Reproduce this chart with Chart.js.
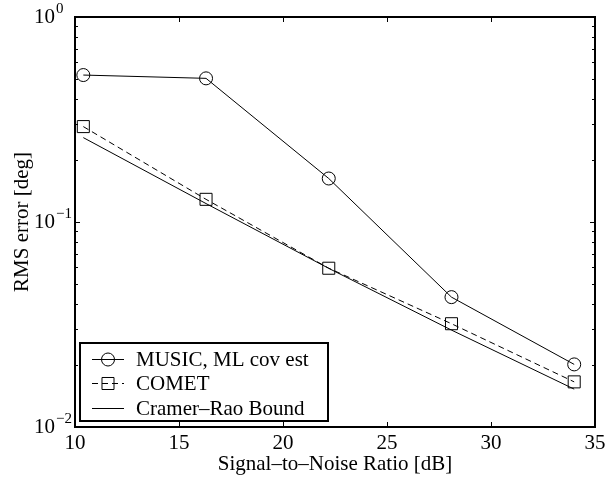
<!DOCTYPE html>
<html>
<head>
<meta charset="utf-8">
<script src="https://cdn.jsdelivr.net/npm/chart.js@4.4.0/dist/chart.umd.min.js"></script>
<style>
  html, body { margin: 0; padding: 0; background: #fff; }
  #wrap { width: 607px; height: 482px; }
</style>
</head>
<body>
<div id="wrap"><canvas id="myChart" width="607" height="482"></canvas></div>
<script>
let snrValues = [10.4, 16.3, 22.2, 28.1, 34.0];
let musicErr = [0.521, 0.502, 0.163, 0.043, 0.0202];
let cometErr = [0.292, 0.129, 0.0595, 0.0319, 0.0166];
let crbErr = [0.258, 0.123, 0.0594, 0.0297, 0.0153];
let seriesNames = ['MUSIC, ML cov est', 'COMET', 'Cramer\u2013Rao Bound'];
let xTicks = [10, 15, 20, 25, 30, 35];
let yMajor = [1, 0.1, 0.01];
let yExponents = {'1': '0', '0.1': '\u22121', '0.01': '\u22122'};

let fontFam = '"Liberation Serif", "Times New Roman", serif';

function toPoints(ys) {
    let pts = [];
    for (let i = 0; i < snrValues.length; i++) {
        pts.push({x: snrValues[i], y: ys[i]});
    }
    return pts;
}

function noPad(s) {
    s.paddingTop = 0;
    s.paddingBottom = 0;
    s.paddingLeft = 0;
    s.paddingRight = 0;
}

// box, inward ticks, exponents and legend
let framePlugin = {
    id: 'frame',
    afterDatasetsDraw(chart) {
        let ctx = chart.ctx;
        let a = chart.chartArea;
        let xs = chart.scales.x;
        let ys = chart.scales.y;
        ctx.save();
        ctx.strokeStyle = '#000';
        ctx.lineWidth = 1;
        ctx.beginPath();
        for (let t of xTicks) {
            let px = Math.round(xs.getPixelForValue(t)) + 0.5;
            ctx.moveTo(px, a.bottom); ctx.lineTo(px, a.bottom - 5);
            ctx.moveTo(px, a.top); ctx.lineTo(px, a.top + 5);
        }
        for (let d = 0.01; d < 1; d *= 10) {
            for (let m = 1; m <= 10; m++) {
                let v = d * m;
                let py = Math.round(ys.getPixelForValue(v)) + 0.5;
                let len = (m === 1 || m === 10) ? 5 : 3;
                ctx.moveTo(a.left, py); ctx.lineTo(a.left + len, py);
                ctx.moveTo(a.right, py); ctx.lineTo(a.right - len, py);
            }
        }
        ctx.stroke();
        ctx.lineWidth = 2;
        ctx.strokeRect(a.left, a.top, a.right - a.left, a.bottom - a.top);

        // exponents of the y tick labels
        ctx.fillStyle = '#000';
        ctx.font = '15px ' + fontFam;
        ctx.textAlign = 'left';
        ctx.textBaseline = 'middle';
        for (let v of yMajor) {
            let py = ys.getPixelForValue(v);
            ctx.fillText(yExponents[String(v)], a.left - 19, py - 8);
        }

        // legend
        let lx = 80, ly = 343, lw = 248, lh = 78;
        ctx.fillStyle = '#fff';
        ctx.fillRect(lx, ly, lw, lh);
        ctx.lineWidth = 2;
        ctx.strokeRect(lx, ly, lw, lh);
        let rows = [359, 383, 408];
        ctx.font = '21px ' + fontFam;
        for (let i = 0; i < 3; i++) {
            let ds = chart.data.datasets[i];
            ctx.lineWidth = 1;
            ctx.setLineDash(ds.borderDash || []);
            ctx.beginPath();
            ctx.moveTo(92, rows[i] + 0.5); ctx.lineTo(124, rows[i] + 0.5);
            ctx.stroke();
            ctx.setLineDash([]);
            if (ds.pointRadius > 0) {
                ctx.fillStyle = 'rgba(0,0,0,0)';
                Chart.helpers.drawPoint(ctx, {pointStyle: ds.pointStyle, radius: ds.pointRadius, borderWidth: 1}, 108, rows[i] + 0.5);
            }
            ctx.fillStyle = '#000';
            ctx.fillText(seriesNames[i], 136, rows[i] + 1);
        }
        ctx.restore();
    }
};

let ctx = document.getElementById('myChart').getContext('2d');
let myChart = new Chart(ctx, {
    type: 'line',
    data: {
        datasets: [{
            label: seriesNames[0],
            data: toPoints(musicErr),
            borderColor: '#000',
            backgroundColor: 'rgba(0,0,0,0)',
            borderWidth: 1,
            pointStyle: 'circle',
            pointRadius: 6.5,
            pointBorderWidth: 1,
            pointBackgroundColor: 'rgba(0,0,0,0)',
            pointBorderColor: '#000'
        }, {
            label: seriesNames[1],
            data: toPoints(cometErr),
            borderColor: '#000',
            backgroundColor: 'rgba(0,0,0,0)',
            borderWidth: 1,
            borderDash: [6, 4],
            pointStyle: 'rect',
            pointRadius: 8.5,
            pointBorderWidth: 1,
            pointBackgroundColor: 'rgba(0,0,0,0)',
            pointBorderColor: '#000'
        }, {
            label: seriesNames[2],
            data: toPoints(crbErr),
            borderColor: '#000',
            backgroundColor: 'rgba(0,0,0,0)',
            borderWidth: 1,
            pointRadius: 0
        }]
    },
    options: {
        responsive: false,
        animation: false,
        layout: { padding: { left: 0, right: 12, top: 17, bottom: 0 } },
        plugins: {
            legend: { display: false },
            tooltip: { enabled: false }
        },
        scales: {
            x: {
                type: 'linear',
                min: 10,
                max: 35,
                grid: { display: false, drawTicks: false },
                border: { display: false },
                afterBuildTicks: (s) => { s.ticks = xTicks.map(v => ({value: v})); },
                afterFit: (s) => { s.height = 55; noPad(s); },
                ticks: {
                    color: '#000',
                    font: { family: fontFam, size: 21 },
                    padding: 4,
                    maxRotation: 0
                },
                title: {
                    display: true,
                    text: 'Signal\u2013to\u2013Noise Ratio [dB]',
                    color: '#000',
                    font: { family: fontFam, size: 21 },
                    padding: { top: 0, bottom: 5 }
                }
            },
            y: {
                type: 'logarithmic',
                min: 0.01,
                max: 1,
                grid: { display: false, drawTicks: false },
                border: { display: false },
                afterBuildTicks: (s) => { s.ticks = yMajor.map(v => ({value: v})); },
                afterFit: (s) => { s.width = 75; noPad(s); },
                ticks: {
                    color: '#000',
                    font: { family: fontFam, size: 21 },
                    padding: 20,
                    autoSkip: false,
                    callback: (v) => '10'
                },
                title: {
                    display: true,
                    text: 'RMS error [deg]',
                    color: '#000',
                    font: { family: fontFam, size: 21 },
                    padding: { top: 10, bottom: 0 }
                }
            }
        }
    },
    plugins: [framePlugin]
});
</script>
</body>
</html>
